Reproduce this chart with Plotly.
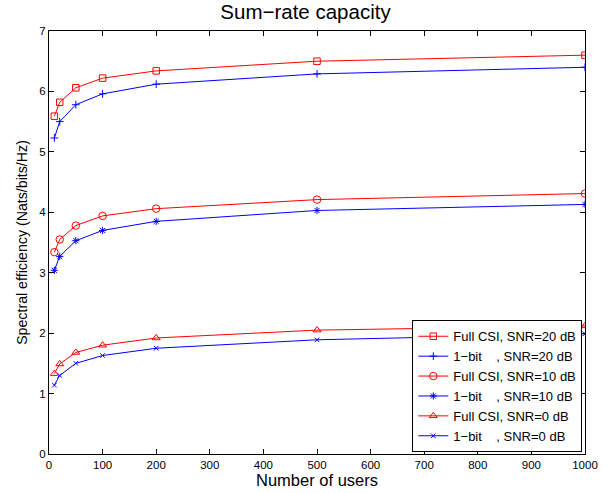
import plotly.graph_objects as go

users = [10, 20, 50, 100, 200, 500, 1000]
full_20 = [5.59, 5.82, 6.06, 6.22, 6.34, 6.50, 6.60]
onebit_20 = [5.23, 5.50, 5.78, 5.96, 6.12, 6.29, 6.40]
full_10 = [3.34, 3.55, 3.78, 3.94, 4.06, 4.21, 4.31]
onebit_10 = [3.04, 3.27, 3.53, 3.70, 3.85, 4.03, 4.13]
full_0 = [1.33, 1.49, 1.68, 1.80, 1.92, 2.05, 2.12]
onebit_0 = [1.14, 1.30, 1.50, 1.63, 1.75, 1.89, 1.99]

NB = "\u00a0"
series = [
    ("Full CSI, SNR=20 dB", full_20, "red", "square-open", 6.5),
    ("1\u2212bit" + NB * 4 + ", SNR=20 dB", onebit_20, "blue", "cross-thin-open", 5.5),
    ("Full CSI, SNR=10 dB", full_10, "red", "circle-open", 7.5),
    ("1\u2212bit" + NB * 4 + ", SNR=10 dB", onebit_10, "blue", "asterisk-open", 6),
    ("Full CSI, SNR=0 dB", full_0, "red", "triangle-up-open", 7),
    ("1\u2212bit" + NB * 4 + ", SNR=0 dB", onebit_0, "blue", "x-thin-open", 4.5),
]

FONT = "Liberation Sans, Arial, sans-serif"

fig = go.Figure()
for name, ys, col, sym, sz in series:
    fig.add_trace(go.Scatter(
        x=users, y=ys, name=name, mode="lines+markers",
        line=dict(color=col, width=1),
        marker=dict(symbol=sym, size=sz, color=col, line=dict(color=col, width=1)),
    ))

axis_common = dict(
    showgrid=False, zeroline=False, showline=True, linecolor="black", linewidth=1,
    mirror="ticks", ticks="inside", ticklen=5, tickcolor="black", automargin=False,
    tickfont=dict(family=FONT, size=11.5, color="black"),
)
fig.update_xaxes(range=[0, 1000], dtick=100,
                 title=dict(text="Number of users", standoff=4,
                            font=dict(family=FONT, size=16.5, color="black")),
                 **axis_common)
fig.update_yaxes(range=[0, 7], dtick=1,
                 title=dict(text="Spectral efficiency (Nats/bits/Hz)", standoff=8,
                            font=dict(family=FONT, size=14.2, color="black")),
                 **axis_common)

fig.update_layout(
    width=611, height=493,
    margin=dict(l=49, r=26, t=31, b=39),
    paper_bgcolor="white", plot_bgcolor="white",
    title=dict(text="Sum\u2212rate capacity", x=0.5, xanchor="center",
               y=0.961, yanchor="bottom",
               font=dict(family=FONT, size=20.5, color="black")),
    font=dict(family=FONT, color="black"),
    showlegend=True,
    legend=dict(x=0.995, xanchor="right", y=0.004, yanchor="bottom",
                bgcolor="white", bordercolor="black", borderwidth=1,
                font=dict(family=FONT, size=13, color="black"),
                tracegroupgap=0, itemwidth=30),
)

# remove the default page margin so the figure fills the window exactly
fig.write_html("out.html", config={"displayModeBar": False},
               post_script="document.body.style.margin='0';")
